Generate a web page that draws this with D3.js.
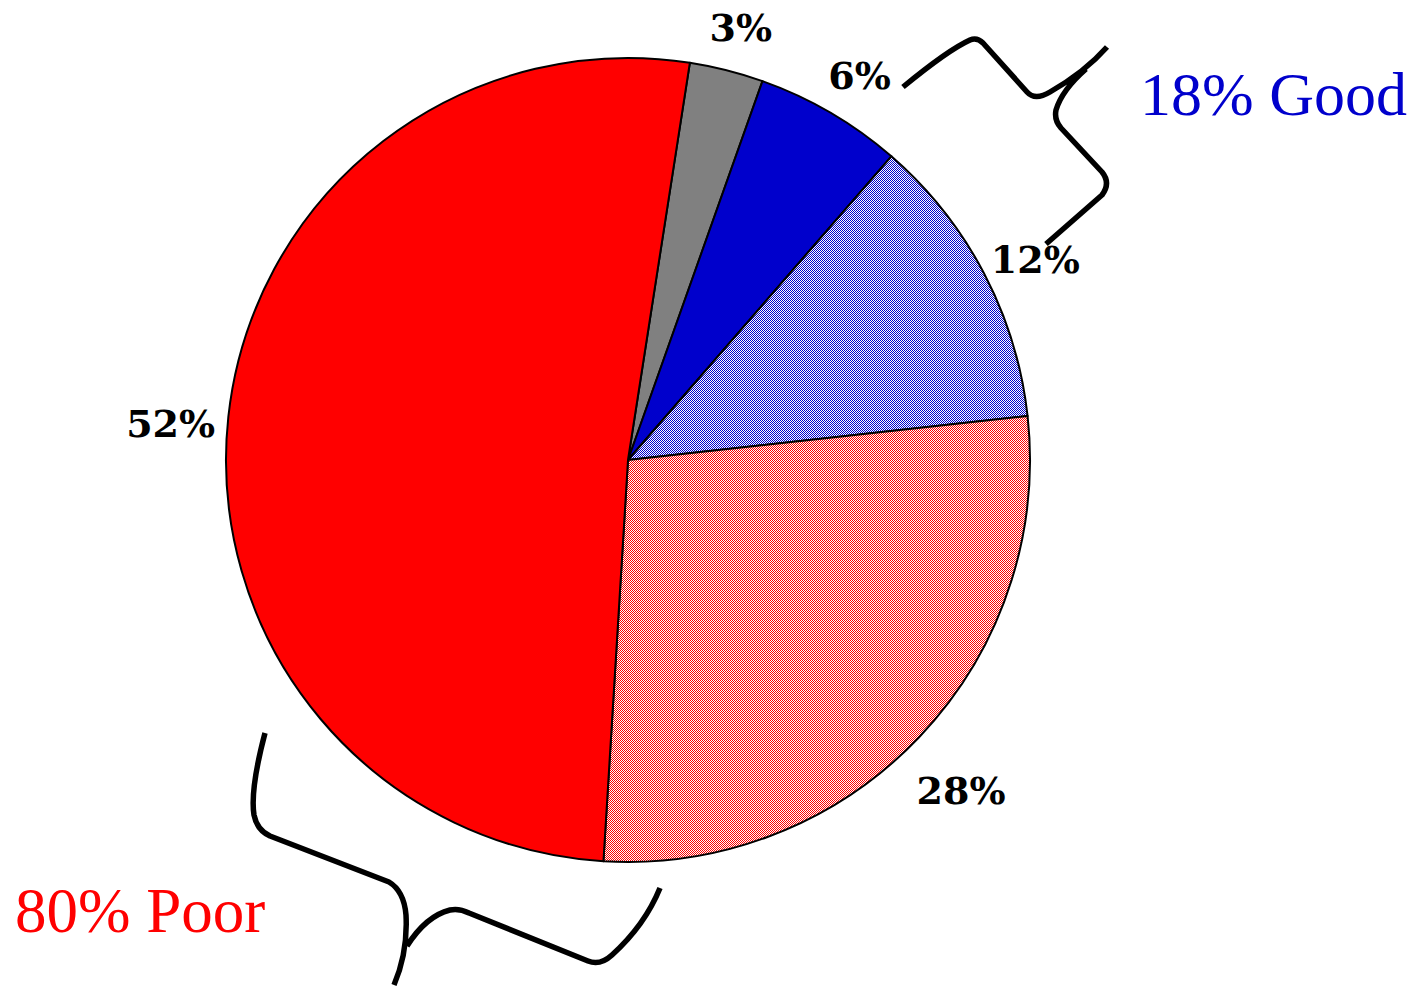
<!DOCTYPE html>
<html>
<head>
<meta charset="utf-8">
<script src="https://cdn.jsdelivr.net/npm/d3@7"></script>
<style>
  body { margin: 0; background: #fff; }
</style>
</head>
<body>
<div class="pie-chart"></div>
<script>
// slice values, clockwise from the top
const sliceLabels = ["3%", "6%", "12%", "28%", "52%"];
const sliceValues = [3, 6, 12, 28, 52];
const sliceKeys = ["other", "good", "fairGood", "fairPoor", "poor"];
const groupLabels = ["18% Good", "80% Poor"];

const width = 1424;
const height = 987;
const cx = 628, cy = 460, radius = 402;
const startAngle = 8.85 * Math.PI / 180;

const svg = d3.select(".pie-chart")
    .append("svg")
    .attr("width", width)
    .attr("height", height);

const defs = svg.append("defs");

// 1px checkerboard fills for the hatched slices
function checker(id, color) {
    const p = defs.append("pattern")
        .attr("id", id)
        .attr("patternUnits", "userSpaceOnUse")
        .attr("width", 2)
        .attr("height", 2);
    p.append("rect").attr("width", 2).attr("height", 2).attr("fill", "#fff");
    p.append("rect").attr("width", 1).attr("height", 1).attr("fill", color);
    p.append("rect").attr("x", 1).attr("y", 1).attr("width", 1).attr("height", 1).attr("fill", color);
}
checker("blueCheck", "#0000cc");
checker("redCheck", "#ff0000");

const color = d3.scaleOrdinal()
    .domain(sliceKeys)
    .range(["#808080", "#0000cc", "url(#blueCheck)", "url(#redCheck)", "#ff0000"]);

const pie = d3.pie()
    .sort(null)
    .value(d => d)
    .startAngle(startAngle)
    .endAngle(startAngle + 2 * Math.PI);

const arcs = pie(sliceValues);

const arc = d3.arc()
    .innerRadius(0)
    .outerRadius(radius);

const labelArc = d3.arc()
    .innerRadius(460)
    .outerRadius(460);

const g = svg.append("g")
    .attr("transform", `translate(${cx},${cy})`);

g.selectAll("path.slice")
    .data(arcs)
    .join("path")
    .attr("class", "slice")
    .attr("d", arc)
    .attr("fill", (d, i) => color(sliceKeys[i]))
    .attr("stroke", "#000")
    .attr("stroke-width", 2)
    .attr("stroke-linejoin", "round");

g.selectAll("text.pct")
    .data(arcs)
    .join("text")
    .attr("class", "pct")
    .attr("x", d => labelArc.centroid(d)[0])
    .attr("y", d => labelArc.centroid(d)[1] + 13)
    .attr("dy", "0.36em")
    .attr("text-anchor", "middle")
    .attr("font-family", "DejaVu Serif")
    .attr("font-weight", "bold")
    .attr("font-size", 38)
    .attr("fill", "#000")
    .text((d, i) => sliceLabels[i]);

// curly braces grouping the slices
const braces = svg.append("g")
    .attr("fill", "none")
    .attr("stroke", "#000")
    .attr("stroke-width", 5.5)
    .attr("stroke-linecap", "butt")
    .attr("stroke-linejoin", "round");

braces.append("path")
    .attr("d", "M903,87 Q948,50 970,40 Q977,37 983,43 L1027,92 Q1035,101 1050,92 Q1085,72 1107,47" +
               "M1086,69 Q1062,90 1056,110 Q1054,120 1061,128 L1102,172 Q1111,183 1102,195 L1046,244");

braces.append("path")
    .attr("d", "M265,733 Q250,790 254,815 Q257,830 270,836 L389,882 Q404,891 406,915 Q408,952 394,985" +
               "M407,946 Q426,916 450,910 Q459,908 469,913 L588,961 Q600,966 612,955 Q645,925 660,888");

svg.append("text")
    .attr("x", 1140)
    .attr("y", 115)
    .attr("font-family", "Liberation Serif")
    .attr("font-size", 62)
    .attr("fill", "#0000cc")
    .text(groupLabels[0]);

svg.append("text")
    .attr("x", 15)
    .attr("y", 932)
    .attr("font-family", "Liberation Serif")
    .attr("font-size", 63)
    .attr("fill", "#ff0000")
    .text(groupLabels[1]);
</script>
</body>
</html>
